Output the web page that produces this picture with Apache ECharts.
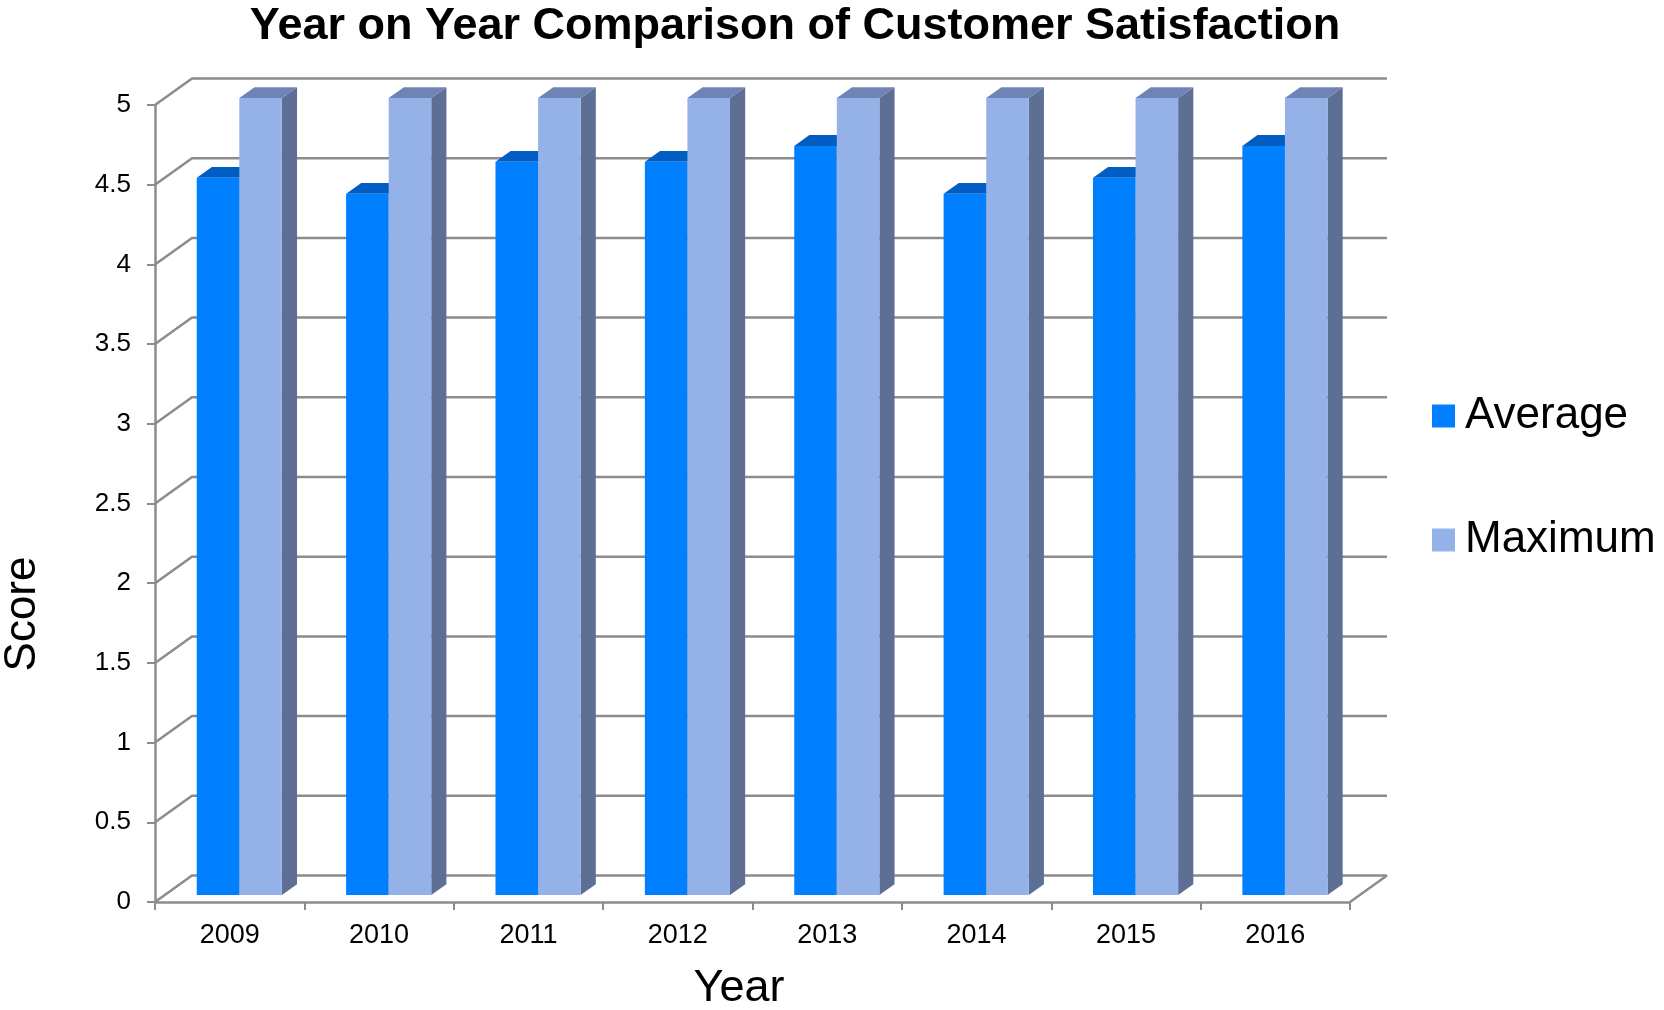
<!DOCTYPE html>
<html>
<head>
<meta charset="utf-8">
<script src="https://cdn.jsdelivr.net/npm/echarts@6/dist/echarts.min.js"></script>
<style>html,body{margin:0;padding:0;background:#fff;}#c{width:1664px;height:1010px;}</style>
</head>
<body>
<div id="c"></div>
<script>
const years = ['2009','2010','2011','2012','2013','2014','2015','2016'];
const averageScores = [4.5, 4.4, 4.6, 4.6, 4.7, 4.4, 4.5, 4.7];
const maximumScores = [5, 5, 5, 5, 5, 5, 5, 5];
const yMin = 0, yMax = 5, yStep = 0.5;

const FONT = 'Liberation Sans, Arial, Helvetica, sans-serif';
const LINE = '#8c8c8c';
const DEPTH = [37, -26.5];       // full floor depth offset (px)
const BAR_FRONT = 0.26;          // fraction of depth where bar front face sits
const BAR_BACK = 0.67;           // fraction of depth where bar back face sits
const BAR_W = 0.285;             // bar width as fraction of category band

const gridValues = [];
for (let k = 0; yMin + k * yStep <= yMax + 1e-9; k++) gridValues.push(+(yMin + k * yStep).toFixed(2));

function wallItem(params, api) {
  const cs = params.coordSys;
  const v = api.value(1);
  const y = api.coord([0, v])[1];
  const left = cs.x, right = cs.x + cs.width;
  const children = [{
    type: 'polyline',
    shape: { points: [[left, y], [left + DEPTH[0], y + DEPTH[1]], [right + DEPTH[0], y + DEPTH[1]]] },
    style: { stroke: LINE, lineWidth: 2.5, fill: null }
  }];
  if (v === yMin) {
    children.push({
      type: 'line',
      shape: { x1: right, y1: y, x2: right + DEPTH[0], y2: y + DEPTH[1] },
      style: { stroke: LINE, lineWidth: 2.5 }
    });
  }
  return { type: 'group', children };
}

function barRenderer(side, front, top, sideCol) {
  return function (params, api) {
    const i = api.value(0), v = api.value(1);
    const band = api.size([1, 0])[0];
    const w = band * BAR_W;
    const base = api.coord([i, yMin]);
    const topPt = api.coord([i, v]);
    const fx = DEPTH[0] * BAR_FRONT, fy = DEPTH[1] * BAR_FRONT;
    const dx = DEPTH[0] * (BAR_BACK - BAR_FRONT), dy = DEPTH[1] * (BAR_BACK - BAR_FRONT);
    const cx = base[0] + fx;
    const x0 = side < 0 ? cx - w : cx;
    const x1 = x0 + w;
    const yT = topPt[1] + fy, yB = base[1] + fy;
    return {
      type: 'group',
      children: [
        { type: 'polygon', shape: { points: [[x1, yT], [x1 + dx, yT + dy], [x1 + dx, yB + dy], [x1, yB]] }, style: { fill: sideCol } },
        { type: 'polygon', shape: { points: [[x0, yT], [x1, yT], [x1 + dx, yT + dy], [x0 + dx, yT + dy]] }, style: { fill: top } },
        { type: 'rect', shape: { x: x0, y: yT, width: w, height: yB - yT }, style: { fill: front } }
      ]
    };
  };
}

const chart = echarts.init(document.getElementById('c'), null, { renderer: 'canvas' });
chart.setOption({
  backgroundColor: '#ffffff',
  animation: false,
  title: {
    text: 'Year on Year Comparison of Customer Satisfaction',
    left: 790, top: -1, textAlign: 'center',
    textStyle: { fontFamily: FONT, fontSize: 45, fontWeight: 'bold', color: '#000' }
  },
  legend: {
    orient: 'vertical', left: 1427, top: 389, padding: 5,
    itemWidth: 23, itemHeight: 23, itemGap: 80,
    icon: 'rect',
    textStyle: { fontFamily: FONT, fontSize: 44, color: '#000', padding: [0, 0, 0, 5] },
    data: ['Average', 'Maximum']
  },
  grid: { left: 155, right: 314, top: 105, bottom: 108, containLabel: false },
  xAxis: {
    type: 'category', data: years, boundaryGap: true,
    axisLine: { show: true, lineStyle: { color: LINE, width: 2.5 } },
    axisTick: { show: true, length: 8, lineStyle: { color: LINE, width: 2 } },
    axisLabel: { fontFamily: FONT, fontSize: 27, color: '#000', margin: 20 },
    splitLine: { show: false }
  },
  yAxis: {
    type: 'value', min: yMin, max: yMax, interval: yStep,
    axisLine: { show: true, lineStyle: { color: LINE, width: 2.5 } },
    axisTick: { show: true, length: 8, lineStyle: { color: LINE, width: 2 } },
    axisLabel: { fontFamily: FONT, fontSize: 26, color: '#000', margin: 24 },
    splitLine: { show: false }
  },
  graphic: [
    { type: 'text', x: 23, y: 614, rotation: Math.PI / 2,
      style: { text: 'Score', font: '44px ' + FONT, fill: '#000', textAlign: 'center', textVerticalAlign: 'middle' } },
    { type: 'text', x: 739, y: 989,
      style: { text: 'Year', font: '45px ' + FONT, fill: '#000', textAlign: 'center', textVerticalAlign: 'middle' } }
  ],
  series: [
    { type: 'custom', name: 'walls', silent: true, clip: false, z: 1,
      data: gridValues.map(v => [0, v]), encode: { x: 0, y: 1 },
      renderItem: wallItem },
    { type: 'custom', name: 'Average', clip: false, z: 2,
      itemStyle: { color: '#0080ff' },
      data: averageScores.map((v, i) => [i, v]), encode: { x: 0, y: 1 },
      renderItem: barRenderer(-1, '#0080ff', '#005ec2', '#0052a8') },
    { type: 'custom', name: 'Maximum', clip: false, z: 3,
      itemStyle: { color: '#94b2e8' },
      data: maximumScores.map((v, i) => [i, v]), encode: { x: 0, y: 1 },
      renderItem: barRenderer(1, '#94b2e8', '#6f84b5', '#5e6f96') }
  ]
});
</script>
</body>
</html>
